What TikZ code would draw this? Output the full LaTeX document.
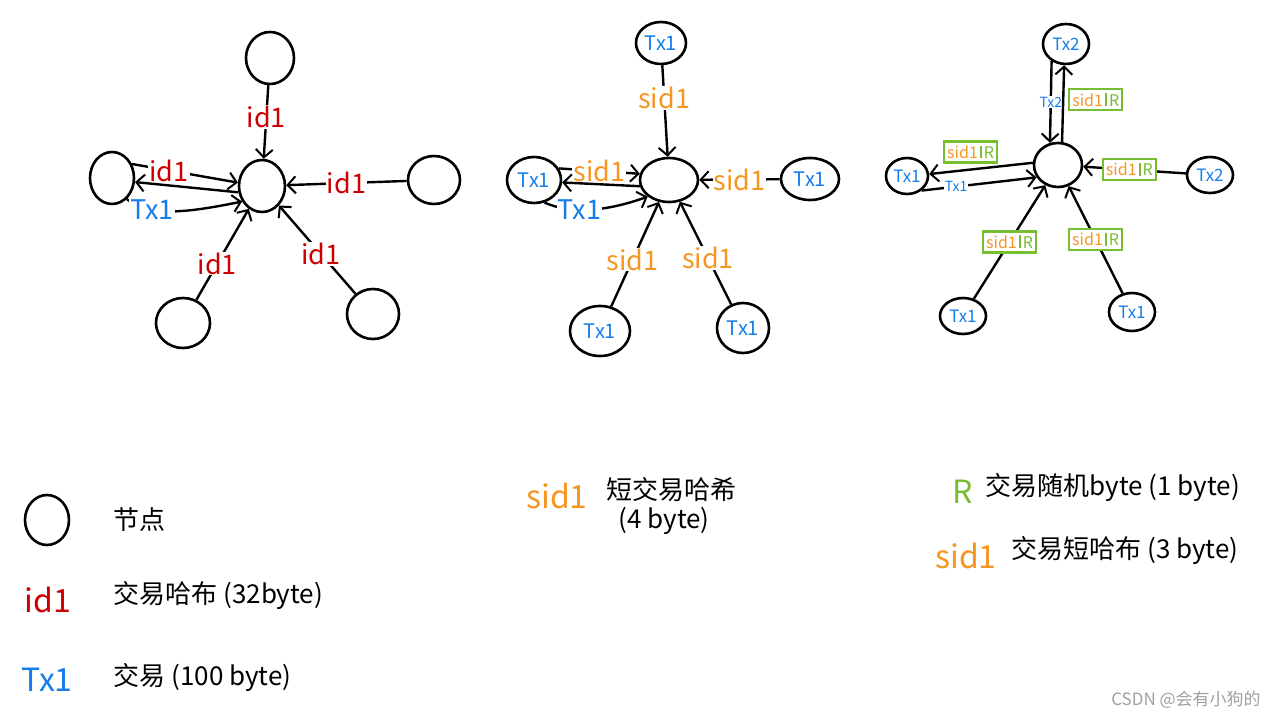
\documentclass[tikz,border=0pt]{standalone}
\usepackage{fontspec}
\setmainfont{Noto Sans CJK SC}
\usetikzlibrary{arrows.meta,shapes.geometric}
\definecolor{hred}{RGB}{204,0,0}
\definecolor{hblue}{RGB}{20,125,235}
\definecolor{horange}{RGB}{245,150,35}
\definecolor{hgreen}{RGB}{120,190,50}
\definecolor{wm}{RGB}{160,160,160}
\tikzset{
  nd/.style={ellipse,draw=black,line width=2.6pt,inner sep=0pt,text=hblue,font=\fontsize{20}{20}\selectfont},
  edge/.style={line width=2.4pt,-{Straight Barb[length=8pt,width=17pt,line width=2pt]}},
  lab/.style={fill=white,inner sep=1pt,font=\fontsize{27}{27}\selectfont},
  idl/.style={lab,text=hred},
  sidl/.style={lab,text=horange},
  txl/.style={lab,text=hblue},
  smtx/.style={fill=white,inner sep=0.5pt,text=hblue,font=\fontsize{14}{14}\selectfont},
  srb/.style={draw=hgreen,line width=2.2pt,fill=white,inner xsep=3pt,inner ysep=4pt,font=\fontsize{16}{16}\selectfont},
  legt/.style={anchor=west,font=\fontsize{26}{26}\selectfont},
  legk/.style={font=\fontsize{32}{32}\selectfont}
}
\newcommand\srlabel{\textcolor{horange}{sid1}\hspace{2pt}{\color{hgreen}\vrule width 2pt}\hspace{2pt}\textcolor{hgreen}{R}}
\begin{document}
\begin{tikzpicture}[x=1pt,y=-1pt]
\path[use as bounding box,fill=white] (0,0) rectangle (1286,719);

% ---------- diagram 1 ----------
\node[nd,minimum width=46pt,minimum height=52pt] (C1) at (262,186) {};
\node[nd,minimum width=48pt,minimum height=52pt] (T1) at (270,58) {};
\node[nd,minimum width=52pt,minimum height=48pt] (R1) at (434,180) {};
\node[nd,minimum width=44pt,minimum height=52pt] (L1) at (112,178) {};
\node[nd,minimum width=54pt,minimum height=50pt] (BL1) at (183,323) {};
\node[nd,minimum width=52pt,minimum height=50pt] (BR1) at (373,314) {};

\draw[edge] (T1) -- node[idl,pos=.43]{id1} (C1);
\draw[edge] (R1) -- node[idl,pos=.5]{id1} (C1);
\draw[edge] (L1.35) -- node[idl,pos=.35]{id1} (C1.172);
\draw[edge] (C1.195) -- (L1.-10);
\draw[edge] (L1.-55) .. controls (150,218) and (190,212) .. node[txl,pos=.3]{Tx1} (C1.218);
\draw[edge] (BL1) -- node[idl,pos=.4]{id1} (C1);
\draw[edge] (BR1) -- node[idl,pos=.45]{id1} (C1);

% ---------- diagram 2 ----------
\node[nd,minimum width=58pt,minimum height=44pt] (C2) at (669,180) {};
\node[nd,minimum width=50pt,minimum height=42pt] (T2) at (661,43) {Tx1};
\node[nd,minimum width=58pt,minimum height=42pt] (R2) at (810,179) {Tx1};
\node[nd,minimum width=54pt,minimum height=46pt] (L2) at (534,180) {Tx1};
\node[nd,minimum width=60pt,minimum height=50pt] (BL2) at (600,331) {Tx1};
\node[nd,minimum width=52pt,minimum height=50pt] (BR2) at (743,328) {Tx1};

\draw[edge] (T2) -- node[sidl,pos=.36]{sid1} (C2);
\draw[edge] (R2) -- node[sidl,pos=.5]{sid1} (C2);
\draw[edge] (L2.25) -- node[sidl,pos=.5]{sid1} (C2.168);
\draw[edge] (C2.192) -- (L2.-5);
\draw[edge] (L2.-65) .. controls (570,214) and (605,212) .. node[txl,pos=.4]{Tx1} (C2.218);
\draw[edge] (BL2) -- node[sidl,pos=.45]{sid1} (C2);
\draw[edge] (BR2) -- node[sidl,pos=.45]{sid1} (C2);

% ---------- diagram 3 ----------
\node[nd,minimum width=48pt,minimum height=44pt] (C3) at (1058,165) {};
\node[nd,minimum width=46pt,minimum height=40pt,font=\fontsize{17}{17}\selectfont] (T3) at (1066,44) {Tx2};
\node[nd,minimum width=42pt,minimum height=36pt,font=\fontsize{17}{17}\selectfont] (L3) at (907,176) {Tx1};
\node[nd,minimum width=46pt,minimum height=36pt,font=\fontsize{17}{17}\selectfont] (R3) at (1210,175) {Tx2};
\node[nd,minimum width=46pt,minimum height=36pt,font=\fontsize{17}{17}\selectfont] (BL3) at (963,316) {Tx1};
\node[nd,minimum width=46pt,minimum height=38pt,font=\fontsize{17}{17}\selectfont] (BR3) at (1132,312) {Tx1};

\draw[edge] (T3.-130) -- node[smtx,pos=.5]{Tx2} (C3.110);
\draw[edge] (C3.80) -- node[srb,pos=.55,anchor=west,xshift=5pt]{\srlabel} (T3.-95);
\draw[edge] (C3.175) -- node[srb,pos=.6,anchor=south,yshift=6pt]{\srlabel} (L3.5);
\draw[edge] (L3.-45) -- node[smtx,pos=.3]{Tx1} (C3.-150);
\draw[edge] (R3) -- node[srb,pos=.55]{\srlabel} (C3);
\draw[edge] (BL3) -- node[srb,pos=.5]{\srlabel} (C3);
\draw[edge] (BR3) -- node[srb,pos=.5]{\srlabel} (C3);

% ---------- legend ----------
\node[nd,minimum width=44pt,minimum height=50pt] (LG) at (47,520) {};
\node[legt] (LGt) at (110,520) {节点};
\node[legk,text=hred] (LI) at (48,600) {id1};
\node[legt] (LIt) at (110,596) {交易哈布 (32byte)};
\node[legk,text=hblue] (LX) at (47,680) {Tx1};
\node[legt] (LXt) at (110,678) {交易 (100 byte)};

\node[legk,text=horange] (LS) at (557,496) {sid1};
\node[legt] (LSt) at (603,490) {短交易哈希};
\node[legt] (LSt2) at (615,521) {(4 byte)};

\node[legk,text=hgreen] (LR) at (963,492) {R};
\node[legt] (LRt) at (982,488) {交易随机byte (1 byte)};
\node[legk,text=horange] (LS2) at (966,556) {sid1};
\node[legt] (LS2t) at (1008,551) {交易短哈布 (3 byte)};

\node[text=wm,font=\fontsize{17}{17}\selectfont] (WM) at (1186,700) {CSDN @会有小狗的};
\end{tikzpicture}
\end{document}
